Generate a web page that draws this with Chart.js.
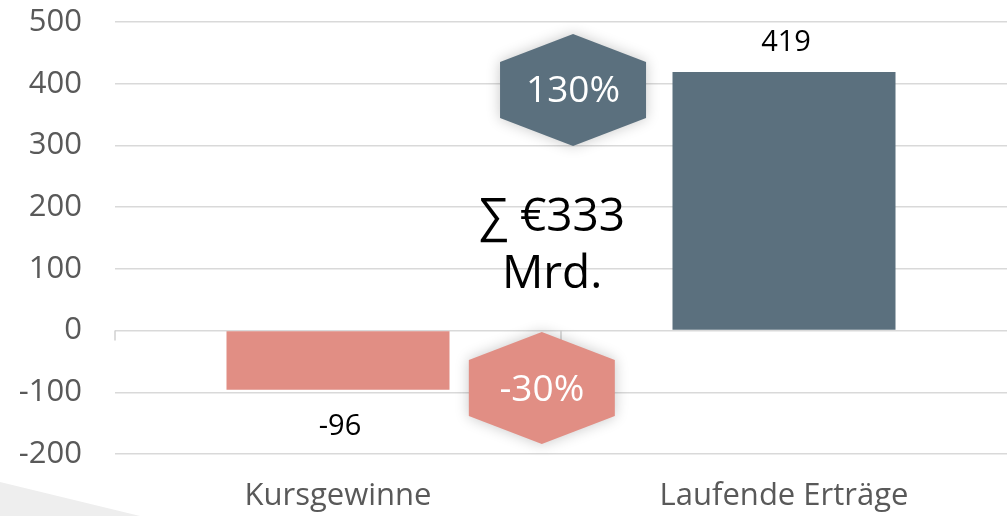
<!DOCTYPE html>
<html>
<head>
<meta charset="utf-8">
<script src="https://cdn.jsdelivr.net/npm/chart.js@4"></script>
<style>
  html, body { margin: 0; padding: 0; background: #fff; }
  #wrap { width: 1007px; height: 516px; position: relative; }
</style>
</head>
<body>
<div id="wrap"><canvas id="chart"></canvas></div>
<script>
// Daten
const kategorien = ['Kursgewinne', 'Laufende Erträge'];
const werte = [-96, 419];
const farben = ['#E18E84', '#5B707E'];

// Sechsecke (Anteile) – Position in Achsenwerten
const anteilTexte = ['130%', '-30%'];
const anteilFarben = ['#5B707E', '#E18E84'];
const anteilX = [0.527, 0.457];   // Kategorie-Index
const anteilY = [390, -93];       // y-Wert

// Summe
const summeZeilen = ['∑ €333', 'Mrd.'];
const summeY = [183, 91];
const summeX = 0.48;

const schrift = "'Open Sans', 'Noto Sans', sans-serif";

// Hintergrund-Deko unten links
const dekoPlugin = {
  id: 'deko',
  beforeDraw(chart) {
    const ctx = chart.ctx;
    ctx.save();
    ctx.fillStyle = '#eeeeee';
    ctx.beginPath();
    ctx.moveTo(0, 482);
    ctx.lineTo(140, 516);
    ctx.lineTo(0, 516);
    ctx.closePath();
    ctx.fill();
    ctx.restore();
  }
};

// Kleine Teilstriche an der Nulllinie
const achsenStriche = {
  id: 'achsenStriche',
  afterDatasetsDraw(chart) {
    const { ctx, scales: { x, y }, chartArea } = chart;
    const y0 = y.getPixelForValue(0);
    ctx.save();
    ctx.strokeStyle = '#d0d0d0';
    ctx.lineWidth = 1.5;
    for (let i = 0; i <= kategorien.length - 1; i++) {
      const px = i === 0 ? chartArea.left : (x.getPixelForValue(i - 1) + x.getPixelForValue(i)) / 2;
      ctx.beginPath();
      ctx.moveTo(px, y0);
      ctx.lineTo(px, y0 + 10);
      ctx.stroke();
    }
    ctx.restore();
  }
};

// Werte an den Balken
const wertLabels = {
  id: 'wertLabels',
  afterDatasetsDraw(chart) {
    const { ctx } = chart;
    const meta = chart.getDatasetMeta(0);
    ctx.save();
    ctx.font = '29px ' + schrift;
    ctx.fillStyle = '#000';
    ctx.textAlign = 'center';
    ctx.textBaseline = 'middle';
    meta.data.forEach((bar, i) => {
      const v = werte[i];
      const yy = v >= 0 ? bar.y - 29 : bar.y + 37;
      ctx.fillText(String(v), bar.x + 2, yy);
    });
    ctx.restore();
  }
};

// Sechsecke und Summe
const overlay = {
  id: 'overlay',
  afterDraw(chart) {
    const { ctx, scales: { x, y } } = chart;
    ctx.save();
    anteilTexte.forEach((t, i) => {
      const cx = x.getPixelForValue(anteilX[i]);
      const cy = y.getPixelForValue(anteilY[i]);
      const w = 73, h = 56;
      ctx.save();
      ctx.shadowColor = 'rgba(0,0,0,0.22)';
      ctx.shadowBlur = 14;
      ctx.fillStyle = anteilFarben[i];
      ctx.beginPath();
      ctx.moveTo(cx, cy - h);
      ctx.lineTo(cx + w, cy - h / 2);
      ctx.lineTo(cx + w, cy + h / 2);
      ctx.lineTo(cx, cy + h);
      ctx.lineTo(cx - w, cy + h / 2);
      ctx.lineTo(cx - w, cy - h / 2);
      ctx.closePath();
      ctx.fill();
      ctx.restore();
      ctx.font = '37px ' + schrift;
      ctx.fillStyle = '#fff';
      ctx.textAlign = 'center';
      ctx.textBaseline = 'middle';
      ctx.fillText(t, cx, cy + 2);
    });
    ctx.font = '46px ' + schrift;
    ctx.fillStyle = '#000';
    ctx.textAlign = 'center';
    ctx.textBaseline = 'middle';
    summeZeilen.forEach((z, i) => {
      ctx.fillText(z, x.getPixelForValue(summeX), y.getPixelForValue(summeY[i]));
    });
    ctx.restore();
  }
};

new Chart(document.getElementById('chart'), {
  type: 'bar',
  data: {
    labels: kategorien,
    datasets: [{
      data: werte,
      backgroundColor: farben,
      borderWidth: 0,
      categoryPercentage: 1,
      barPercentage: 0.5
    }]
  },
  options: {
    responsive: true,
    maintainAspectRatio: false,
    animation: false,
    layout: { padding: 0 },
    plugins: { legend: { display: false }, tooltip: { enabled: false } },
    scales: {
      x: {
        grid: { display: false, drawTicks: false },
        border: { display: false },
        ticks: { color: '#595959', font: { size: 31, family: schrift }, padding: 24 },
        afterFit(scale) {
          scale.height = 62;
        }
      },
      y: {
        min: -200,
        max: 500,
        ticks: { stepSize: 100, color: '#595959', font: { size: 31, family: schrift }, padding: 33 },
        grid: { color: '#d9d9d9', lineWidth: 1.5, drawTicks: false },
        border: { display: false },
        afterFit(scale) {
          scale.width = 115;
          scale.paddingTop = 22;
          scale.paddingBottom = 0;
        }
      }
    }
  },
  plugins: [dekoPlugin, achsenStriche, wertLabels, overlay]
});
</script>
</body>
</html>
